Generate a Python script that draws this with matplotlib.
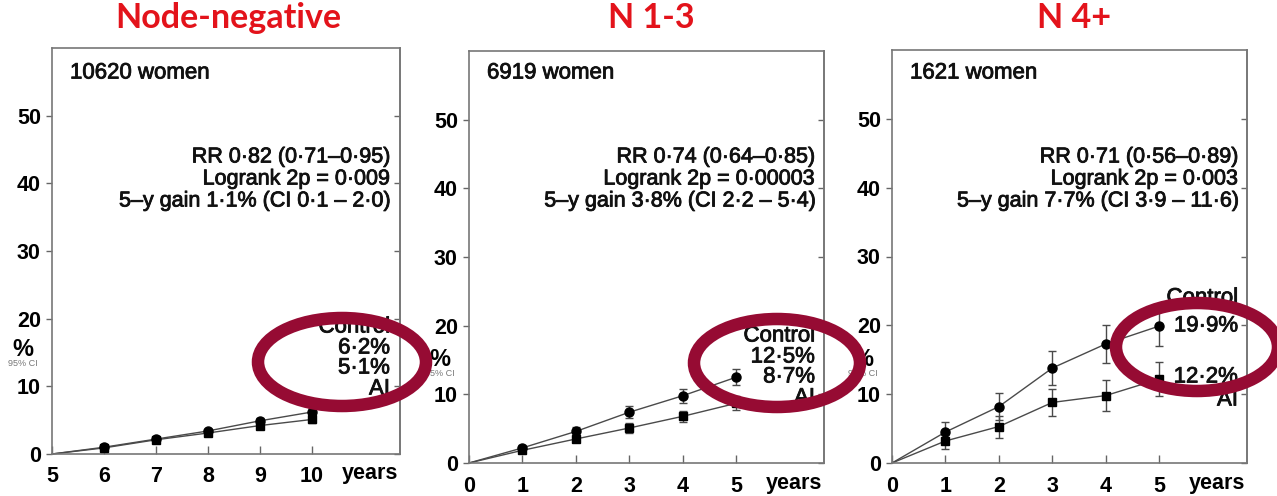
import matplotlib
matplotlib.use("Agg")
import matplotlib.pyplot as plt
from matplotlib.patches import Ellipse
import matplotlib.patheffects as pe

plt.rcParams['font.family'] = ['Liberation Sans', 'DejaVu Sans']

W, H = 1277, 496

# ---------------- data ----------------
titles = ["Node-negative", "N 1-3", "N 4+"]
n_women = ["10620 women", "6919 women", "1621 women"]
stats_rr = ["RR 0·82 (0·71–0·95)", "RR 0·74 (0·64–0·85)", "RR 0·71 (0·56–0·89)"]
stats_lr = ["Logrank 2p = 0·009", "Logrank 2p = 0·00003", "Logrank 2p = 0·003"]
stats_gain = ["5–y gain 1·1% (CI 0·1 – 2·0)", "5–y gain 3·8% (CI 2·2 – 5·4)",
              "5–y gain 7·7% (CI 3·9 – 11·6)"]
control_final = ["6·2%", "12·5%", "19·9%"]
ai_final = ["5·1%", "8·7%", "12·2%"]

years_p1 = [5, 6, 7, 8, 9, 10]
years_p23 = [0, 1, 2, 3, 4, 5]
xticks_p1 = [5, 6, 7, 8, 9, 10]
xticks_p23 = [0, 1, 2, 3, 4, 5]
yticks = [0, 10, 20, 30, 40, 50]

ctrl_p1 = [0, 1.0, 2.2, 3.4, 4.9, 6.2]
ctrl_err_p1 = [0, 0.3, 0.3, 0.35, 0.45, 0.55]
ai_p1 = [0, 0.9, 2.1, 3.1, 4.2, 5.1]
ai_err_p1 = [0, 0.3, 0.3, 0.35, 0.4, 0.5]

ctrl_p2 = [0, 2.2, 4.6, 7.4, 9.8, 12.5]
ctrl_err_p2 = [0, 0.45, 0.6, 0.9, 1.0, 1.2]
ai_p2 = [0, 1.85, 3.5, 5.1, 6.8, 8.7]
ai_err_p2 = [0, 0.4, 0.5, 0.7, 0.8, 1.0]

ctrl_p3 = [0, 4.5, 8.2, 13.8, 17.3, 19.9]
ctrl_err_p3 = [0, 1.5, 1.9, 2.5, 2.7, 2.9]
ai_p3 = [0, 3.2, 5.3, 8.8, 9.8, 12.2]
ai_err_p3 = [0, 1.2, 1.6, 2.0, 2.2, 2.5]

panels = [
    (years_p1, xticks_p1, ctrl_p1, ctrl_err_p1, ai_p1, ai_err_p1),
    (years_p23, xticks_p23, ctrl_p2, ctrl_err_p2, ai_p2, ai_err_p2),
    (years_p23, xticks_p23, ctrl_p3, ctrl_err_p3, ai_p3, ai_err_p3),
]

# ---------------- layout (pixels) ----------------
boxes = [(52, 48, 400, 454), (469, 51, 824, 463), (892, 50, 1247, 463)]
xlims = [(5, 11.7), (0, 6.64), (0, 6.64)]
# label y positions (pixels): Control, ctrl %, ai %, AI
label_y = [(327, 348, 368, 389), (336, 357, 377, 398), (298, 326, 377, 400)]
label_right = [390, 815, 1238]
ellipses = [(342, 362, 168, 88), (777, 363, 166, 88), (1197, 347, 162, 88)]

fig = plt.figure(figsize=(W / 100, H / 100), dpi=100)
title_red = '#E3131B'
ell_col = '#960B33'
line_col = '#4a4a4a'
txt_col = '#111111'
heavy = [pe.withStroke(linewidth=0.6, foreground=txt_col)]

for i, (x, xt, c, ce, a, ae) in enumerate(panels):
    l, t, r, b = boxes[i]
    ax = fig.add_axes([l / W, 1 - b / H, (r - l) / W, (b - t) / H])
    ax.set_xlim(*xlims[i])
    ax.set_ylim(0, 60)
    ax.set_xticks(xt)
    ax.set_yticks(yticks)
    ax.tick_params(axis='both', labelsize=15.5, width=1, color='#666666')
    ax.tick_params(axis='y', direction='out', length=4, pad=4)
    ax.tick_params(axis='x', direction='in', length=6, pad=9)
    for lab in ax.get_xticklabels() + ax.get_yticklabels():
        lab.set_fontweight('bold')
    for s in ax.spines.values():
        s.set_color('#777777')
        s.set_linewidth(1.2)
    sec = ax.secondary_yaxis('right')
    sec.set_yticks(yticks)
    sec.tick_params(direction='in', length=4, width=1, color='#666666', labelright=False)
    sec.spines['right'].set_color('#777777')
    sec.spines['right'].set_linewidth(1.2)

    # lines start at origin; markers and CIs at yearly points
    ax.plot(x, c, color=line_col, lw=1.0, zorder=2, clip_on=False)
    ax.plot(x, a, color=line_col, lw=1.0, zorder=2, clip_on=False)
    ax.errorbar(x[1:], c[1:], yerr=ce[1:], fmt='o', ms=6.5, mfc='black', mec='black',
                ecolor=line_col, elinewidth=1.0, capsize=3, zorder=3, clip_on=False)
    ax.errorbar(x[1:], a[1:], yerr=ae[1:], fmt='s', ms=6, mfc='black', mec='black',
                ecolor=line_col, elinewidth=1.0, capsize=3, zorder=3, clip_on=False)

    # texts inside panel
    fig.text((l + 18) / W, 1 - 73 / H, n_women[i], fontsize=16,
             ha='left', va='center', color=txt_col, path_effects=heavy)
    rx = label_right[i] / W
    for yy, s in zip((157, 179, 201), (stats_rr[i], stats_lr[i], stats_gain[i])):
        fig.text(rx, 1 - yy / H, s, fontsize=15.5, ha='right', va='center',
                 color=txt_col, path_effects=heavy)

    ly = label_y[i]
    for yy, s in zip(ly, ("Control", control_final[i], ai_final[i], "AI")):
        fig.text(rx, 1 - yy / H, s, fontsize=16, ha='right', va='center',
                 color=txt_col, path_effects=heavy)

    # y label
    fig.text((l - 29) / W, 1 - (b - 104) / H, "%", fontsize=17, fontweight='bold',
             ha='center', va='center')
    fig.text((l - 29) / W, 1 - (b - 90) / H, "95% CI", fontsize=6.5, color='#777777',
             ha='center', va='center')
    # years label
    fig.text((r - 30) / W, 1 - (b + 20) / H, "years", fontsize=15.5, fontweight='bold',
             ha='center', va='center')

    # title
    fig.text(((l + r) / 2 + (2 if i == 0 else 5)) / W, 1 - 18 / H, titles[i],
             fontsize=24.5, fontweight='bold', color=title_red, ha='center', va='center',
             family=['Lato', 'DejaVu Sans'])

    # highlight ellipse
    ex, ey, ew, eh = ellipses[i]
    fig.add_artist(Ellipse((ex / W, 1 - ey / H), ew / W, eh / H,
                           transform=fig.transFigure, fill=False,
                           edgecolor=ell_col, linewidth=9, zorder=10))

fig.savefig("out.png", dpi=100)
